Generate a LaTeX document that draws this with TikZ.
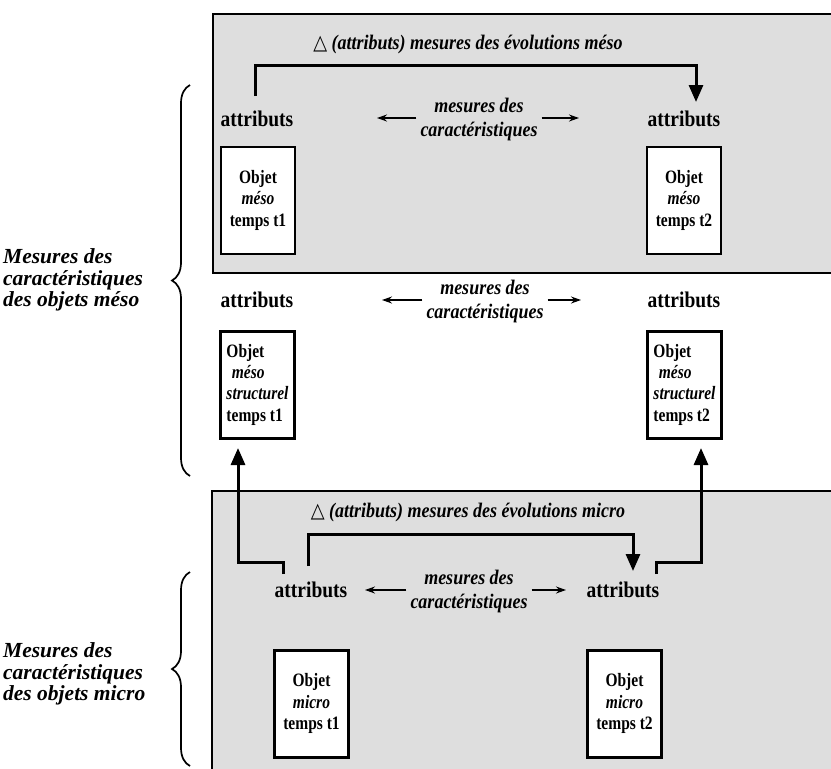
\documentclass[tikz,border=0pt]{standalone}
\usepackage{graphicx}
\usepackage{fontspec}
\setmainfont{Liberation Serif}
\newfontfamily\symfont{DejaVu Sans}
\usetikzlibrary{arrows.meta,decorations.pathreplacing}
\definecolor{panelgray}{gray}{0.87}
\tikzset{
  panel/.style={draw=black, line width=2.6pt, fill=panelgray},
  objbox/.style={draw=black, line width=2.8pt, fill=white, minimum width=74pt, minimum height=107pt, font=\fontsize{15.5}{17.5}\selectfont\bfseries, inner sep=1pt},
  attr/.style={font=\fontsize{19.5}{22}\selectfont\bfseries, inner sep=0pt},
  mes/.style={font=\fontsize{18}{21}\selectfont\bfseries\itshape, inner sep=0pt},
  ttl/.style={font=\fontsize{18}{22}\selectfont\bfseries\itshape, inner sep=0pt},
  lbl/.style={font=\fontsize{21.5}{21.5}\selectfont\bfseries\itshape, align=left, anchor=west, inner sep=0pt},
  evoarr/.style={line width=3pt, -{Triangle[length=17pt,width=14pt]}},
  thinarr/.style={line width=1.3pt, -{Stealth[length=10pt,width=7pt]}},
  brc/.style={decorate, decoration={brace, amplitude=18pt}, line width=1.7pt},
}
\newcommand{\tri}{{\symfont\fontsize{18}{18}\selectfont\upshape △}}
\newcommand{\boxtxt}[2]{\scalebox{1}[1.22]{\begin{tabular}{@{}#1@{}}#2\end{tabular}}}
\newcommand{\tallt}[1]{\scalebox{1}[1.15]{#1}}
\newcommand{\mestxt}{\scalebox{1}[1.15]{\begin{tabular}{@{}c@{}}mesures des\\caractéristiques\end{tabular}}}
\begin{document}
\begin{tikzpicture}[x=1pt,y=-1pt]
\useasboundingbox (0,0) rectangle (831,769);
\clip (0,0) rectangle (831,769);

% panels
\draw[panel] (213,14) rectangle (845,273);
\draw[panel] (212,491) rectangle (845,790);

% ---------- top panel (meso) ----------
\node[ttl] (tmeso) at (468,45) {\tallt{\tri\ (attributs) mesures des évolutions méso}};
\node[attr] (ma1) at (257,119) {\tallt{attributs}};
\node[attr] (ma2) at (684,119) {\tallt{attributs}};
\node[mes] (mm) at (479,120) {\mestxt};
\node[objbox] (mo1) at (258,200.5) {\boxtxt{c}{Objet\\\itshape méso\\temps t1}};
\node[objbox] (mo2) at (684,200.5) {\boxtxt{c}{Objet\\\itshape méso\\temps t2}};
\coordinate (mb1) at (255,96);
\coordinate (mb2) at (696,65);
\coordinate (mb3) at (696,102);
\draw[evoarr] (mb1) |- (mb2) -- (mb3);
\coordinate (mla) at (377,118);
\coordinate (mra) at (579,118);
\draw[thinarr] (mm.west |- mla) ++(-4,0) -- (mla);
\draw[thinarr] (mm.east |- mra) ++(4,0) -- (mra);

% ---------- middle (meso structurel) ----------
\node[attr] (sa1) at (257,300) {\tallt{attributs}};
\node[attr] (sa2) at (684,300) {\tallt{attributs}};
\node[mes] (sm) at (485,302) {\mestxt};
\node[objbox] (so1) at (257.5,385) {\boxtxt{l}{Objet\\\hspace*{0.35em}\itshape méso\\\itshape structurel\\temps t1}};
\node[objbox] (so2) at (684.5,385) {\boxtxt{l}{Objet\\\hspace*{0.35em}\itshape méso\\\itshape structurel\\temps t2}};
\coordinate (sla) at (382,300);
\coordinate (sra) at (581,300);
\draw[thinarr] (sm.west |- sla) ++(-4,0) -- (sla);
\draw[thinarr] (sm.east |- sra) ++(4,0) -- (sra);

% ---------- bottom panel (micro) ----------
\node[ttl] (tmicro) at (468,513) {\tallt{\tri\ (attributs) mesures des évolutions micro}};
\node[attr] (ia1) at (311,590) {\tallt{attributs}};
\node[attr] (ia2) at (623,590) {\tallt{attributs}};
\node[mes] (im) at (469,592) {\mestxt};
\node[objbox] (io1) at (311.5,704) {\boxtxt{c}{Objet\\\itshape micro\\temps t1}};
\node[objbox] (io2) at (624.5,704) {\boxtxt{c}{Objet\\\itshape micro\\temps t2}};
\coordinate (ib1) at (308,566);
\coordinate (ib2) at (633,534);
\coordinate (ib3) at (633,571);
\draw[evoarr] (ib1) |- (ib2) -- (ib3);
\coordinate (ila) at (365,590);
\coordinate (ira) at (566,590);
\draw[thinarr] (im.west |- ila) ++(-4,0) -- (ila);
\draw[thinarr] (im.east |- ira) ++(4,0) -- (ira);

% ---------- micro -> meso structurel ----------
\coordinate (u1s) at (283,574);
\coordinate (u1k) at (238,562);
\coordinate (u1t) at (238,448);
\draw[evoarr] (u1s) |- (u1k) -- (u1t);
\coordinate (u2s) at (656,574);
\coordinate (u2k) at (701,562);
\coordinate (u2t) at (701,448);
\draw[evoarr] (u2s) |- (u2k) -- (u2t);

% ---------- left labels ----------
\coordinate (b1a) at (190,476);
\coordinate (b1b) at (190,85);
\draw[brc] (b1a) -- (b1b);
\node[lbl] (l1) at (3,280) {Mesures des\\caractéristiques\\des objets méso};
\coordinate (b2a) at (190,766);
\coordinate (b2b) at (190,572);
\draw[brc] (b2a) -- (b2b);
\node[lbl] (l2) at (3,674) {Mesures des\\caractéristiques\\des objets micro};
\end{tikzpicture}
\end{document}
